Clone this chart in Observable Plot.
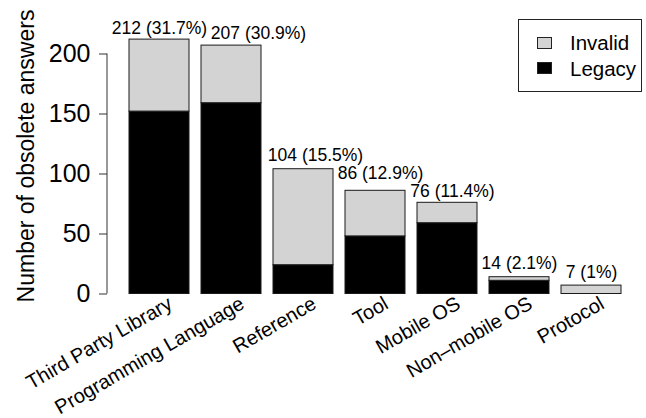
<!DOCTYPE html>
<html>
<head>
<meta charset="utf-8">
<script src="https://cdn.jsdelivr.net/npm/d3@7"></script>
<script src="https://cdn.jsdelivr.net/npm/@observablehq/plot@0.6"></script>
<style>
  body { margin: 0; background: #fff; }
  #wrap { position: relative; width: 646px; height: 418px; font-family: "Liberation Sans", Arial, Helvetica, sans-serif; }
  #legend { position: absolute; left: 518px; top: 19px; width: 124px; height: 73px; border: 1px solid #222; box-sizing: border-box; background: #fff; }
  #legend .sw { position: absolute; left: 18px; width: 15px; height: 12px; border: 1px solid #222; box-sizing: border-box; }
  #legend .lab { position: absolute; left: 51px; font-size: 20.5px; line-height: 20.5px; color: #000; white-space: nowrap; }
</style>
</head>
<body>
<div id="wrap"></div>
<script>
// ---- data ----
const categories = ["Third Party Library", "Programming Language", "Reference", "Tool", "Mobile OS", "Non\u2013mobile OS", "Protocol"];
const legacy  = [152, 159, 24, 48, 59, 11, 0];
const invalid = [60, 48, 80, 38, 17, 3, 7];
const totals  = [212, 207, 104, 86, 76, 14, 7];
const shares  = ["31.7%", "30.9%", "15.5%", "12.9%", "11.4%", "2.1%", "1%"];
const series  = ["Invalid", "Legacy"];
const seriesColors = ["#d3d3d3", "#000000"];
const yTicks  = [0, 50, 100, 150, 200];
const yLabel  = "Number of obsolete answers";

// ---- layout (label nudges in pixels, not data) ----
const nudgeX = [0, 27, 12, 5, 5, 0, 0];
const nudgeY = [6, 7, 8, 12, 6, 8, 8];

const rows = categories.flatMap((c, i) => [
  {category: c, type: "Legacy", value: legacy[i]},
  {category: c, type: "Invalid", value: invalid[i]}
]);

const axisLine = (index, scales, values, dims) => {
  const l = d3.create("svg:line")
    .attr("x1", dims.marginLeft).attr("x2", dims.marginLeft)
    .attr("y1", scales.y(d3.min(yTicks))).attr("y2", scales.y(d3.max(yTicks)))
    .attr("stroke", "#333").attr("stroke-width", 1);
  return l.node();
};

const topLabels = totals.map((t, i) => Plot.text([i], {
  x: d => categories[d],
  y: d => totals[d],
  text: d => `${totals[d]} (${shares[d]})`,
  dx: nudgeX[i], dy: -nudgeY[i],
  lineAnchor: "bottom", textAnchor: "middle", fontSize: 17.5, fill: "#000"
}));

const chart = Plot.plot({
  width: 646, height: 418,
  marginLeft: 107, marginRight: 23, marginTop: 53.5, marginBottom: 124.5,
  style: {fontFamily: "'Liberation Sans', Arial, Helvetica, sans-serif", background: "#fff", color: "#000"},
  x: {domain: categories, range: [127, 623], paddingInner: 0.1667, paddingOuter: 0, axis: null},
  y: {domain: [0, 200], axis: null},
  color: {domain: series, range: seriesColors},
  marks: [
    Plot.barY(rows, {x: "category", y: "value", fill: "type", order: ["Legacy", "Invalid"], stroke: "#1a1a1a", strokeWidth: 1}),
    axisLine,
    Plot.axisY(yTicks, {tickSize: 8, tickPadding: 9, fontSize: 25, label: null, stroke: "#333"}),
    Plot.text([yLabel], {frameAnchor: "left", rotate: -90, text: d => d, lineAnchor: "bottom", textAnchor: "middle", dx: -74, dy: -18, fontSize: 23, fill: "#000"}),
    ...topLabels,
    Plot.text(categories, {x: d => d, y: d => 0, text: d => d, rotate: -30, textAnchor: "end", lineAnchor: "middle", dx: 11, dy: 8, fontSize: 20, fill: "#000"})
  ]
});

const wrap = document.getElementById("wrap");
wrap.appendChild(chart);

// legend
const legend = document.createElement("div");
legend.id = "legend";
series.forEach((s, i) => {
  const sw = document.createElement("span");
  sw.className = "sw";
  sw.style.top = (17 + i * 25) + "px";
  sw.style.background = seriesColors[i];
  legend.appendChild(sw);
  const lab = document.createElement("span");
  lab.className = "lab";
  lab.style.top = (13.4 + i * 25.3) + "px";
  lab.textContent = s;
  legend.appendChild(lab);
});
wrap.appendChild(legend);
</script>
</body>
</html>
